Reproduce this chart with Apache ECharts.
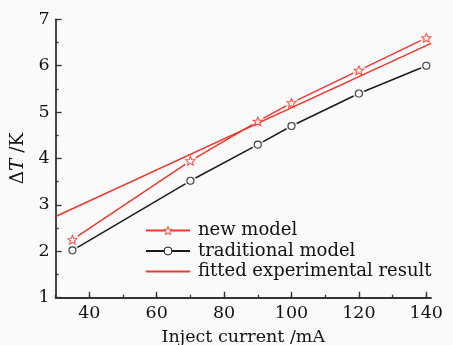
<!DOCTYPE html>
<html>
<head>
<meta charset="utf-8">
<script src="https://cdn.jsdelivr.net/npm/echarts@6/dist/echarts.min.js"></script>
<style>
  html, body { margin: 0; padding: 0; background: #fafafa; }
  #chart { width: 453px; height: 345px; }
</style>
</head>
<body>
<div id="chart"></div>
<script>
// Injection current (mA) at which both models were evaluated
const currents = [35, 70, 90, 100, 120, 140];
// Temperature rise ΔT (K)
const newModel = [2.25, 3.95, 4.8, 5.2, 5.9, 6.6];
const traditionalModel = [2.02, 3.52, 4.3, 4.7, 5.4, 6.0];
// Straight-line fit of the experimental data (end points)
const fittedCurrents = [30, 141.4];
const fittedValues = [2.75, 6.48];
// Axis ranges
const xMin = 30, xMax = 140, xFitMax = 141.4;
const yMin = 1, yMax = 7;

const RED = '#ec3a2c';
const BLACK = '#1a1a1a';
const BG = '#fafafa';
const INK = '#111';
const AXIS = '#333';
const FONT = 'DejaVu Serif';
const STAR = 'path://M0,-10L2.645,-3.641L9.511,-3.09L4.28,1.39L5.878,8.09L0,4.5L-5.878,8.09L-4.28,1.39L-9.511,-3.09L-2.645,-3.641Z';

const pairs = (xs, ys) => xs.map((x, i) => [x, ys[i]]);

const plotTop = 19.3, plotHeight = 278.4, plotLeft = 55.6;
const pxPerUnit = 3.37;

const chart = echarts.init(document.getElementById('chart'), null, { renderer: 'canvas' });

const hiddenY = { type: 'value', min: yMin, max: yMax, show: false };
const tickLine = { color: AXIS, width: 1.3 };
const gridBase = { top: plotTop, height: plotHeight, containLabel: false, outerBoundsMode: 'none' };

chart.setOption({
  backgroundColor: BG,
  animation: false,
  grid: [
    // main plot area (x from 30 to 140)
    Object.assign({ left: plotLeft, width: (xMax - xMin) * pxPerUnit }, gridBase),
    // slightly longer frame for the fitted line and the bottom axis line
    Object.assign({ left: plotLeft, width: (xFitMax - xMin) * pxPerUnit }, gridBase),
    // labelled major ticks every 20 mA starting at 40
    Object.assign({ left: plotLeft + 10 * pxPerUnit, width: (xMax - 40) * pxPerUnit }, gridBase)
  ],
  xAxis: [
    {
      gridIndex: 0, type: 'value', min: xMin, max: xMax, interval: 10,
      axisLine: { show: false },
      axisTick: { show: true, inside: true, length: 3, lineStyle: tickLine },
      axisLabel: { show: false },
      splitLine: { show: false }
    },
    {
      gridIndex: 1, type: 'value', min: xMin, max: xFitMax,
      axisLine: { show: true, lineStyle: { color: AXIS, width: 1.8 } },
      axisTick: { show: false },
      axisLabel: { show: false },
      splitLine: { show: false },
      name: 'Inject current /mA',
      nameLocation: 'middle',
      nameGap: 31,
      nameTextStyle: { fontFamily: FONT, fontSize: 17.5, color: INK }
    },
    {
      gridIndex: 2, type: 'value', min: 40, max: xMax, interval: 20,
      axisLine: { show: false },
      axisTick: { show: true, inside: true, length: 6, lineStyle: tickLine },
      axisLabel: { show: true, margin: 7, fontFamily: FONT, fontSize: 17.5, color: INK },
      splitLine: { show: false }
    }
  ],
  yAxis: [
    {
      gridIndex: 0, type: 'value', min: yMin, max: yMax, interval: 1,
      axisLine: { show: true, lineStyle: { color: AXIS, width: 1.8 } },
      axisTick: { show: true, inside: true, length: 6, lineStyle: tickLine },
      minorTick: { show: true, splitNumber: 2, length: 3, lineStyle: tickLine },
      axisLabel: { show: true, margin: 6, fontFamily: FONT, fontSize: 17.5, color: INK },
      splitLine: { show: false },
      name: '{d|Δ}{t|T}{k| /K}',
      nameLocation: 'middle',
      nameRotate: 90,
      nameGap: 18,
      nameTextStyle: {
        color: INK,
        rich: {
          d: { fontFamily: FONT, fontSize: 18.5, color: INK },
          t: { fontFamily: FONT, fontSize: 18.5, fontStyle: 'italic', color: INK },
          k: { fontFamily: FONT, fontSize: 18.5, color: INK }
        }
      }
    },
    Object.assign({ gridIndex: 1 }, hiddenY),
    Object.assign({ gridIndex: 2 }, hiddenY)
  ],
  legend: {
    orient: 'vertical',
    left: 140,
    top: 216.5,
    itemWidth: 44,
    itemHeight: 10,
    itemGap: 2.5,
    data: [
      { name: 'new model', itemStyle: { color: '#fff', borderColor: RED, borderWidth: 1 } },
      { name: 'traditional model', itemStyle: { color: '#fff', borderColor: BLACK, borderWidth: 1 } },
      { name: 'fitted experimental result', itemStyle: { color: 'rgba(0,0,0,0)', borderWidth: 0 } }
    ],
    textStyle: { fontFamily: FONT, fontSize: 18, color: INK, padding: [0, 0, 0, 3] }
  },
  series: [
    {
      name: 'new model', type: 'line', xAxisIndex: 0, yAxisIndex: 0, z: 2,
      data: pairs(currents, newModel),
      symbol: STAR, symbolKeepAspect: true, symbolSize: 9,
      lineStyle: { color: RED, width: 1.5 },
      itemStyle: { color: '#fff', borderColor: RED, borderWidth: 1.1 }
    },
    {
      name: 'traditional model', type: 'line', xAxisIndex: 0, yAxisIndex: 0, z: 2,
      data: pairs(currents, traditionalModel),
      symbol: 'circle', symbolSize: 7,
      lineStyle: { color: BLACK, width: 1.5 },
      itemStyle: { color: '#fff', borderColor: BLACK, borderWidth: 1.1 }
    },
    // background discs that open a small gap in the lines around each marker
    {
      name: 'gap-new', type: 'scatter', xAxisIndex: 0, yAxisIndex: 0, z: 3, silent: true,
      data: pairs(currents, newModel), symbol: 'circle', symbolSize: 13,
      itemStyle: { color: BG }
    },
    {
      name: 'gap-traditional', type: 'scatter', xAxisIndex: 0, yAxisIndex: 0, z: 3, silent: true,
      data: pairs(currents, traditionalModel), symbol: 'circle', symbolSize: 12,
      itemStyle: { color: BG }
    },
    {
      name: 'fitted experimental result', type: 'line', xAxisIndex: 1, yAxisIndex: 1, z: 4,
      data: pairs(fittedCurrents, fittedValues),
      symbol: 'none',
      lineStyle: { color: RED, width: 1.5 },
      itemStyle: { color: RED }
    },
    {
      name: 'marker-new', type: 'scatter', xAxisIndex: 0, yAxisIndex: 0, z: 5, silent: true,
      data: pairs(currents, newModel), symbol: STAR, symbolKeepAspect: true, symbolSize: 9,
      itemStyle: { color: '#fff', borderColor: RED, borderWidth: 1.1 }
    },
    {
      name: 'marker-traditional', type: 'scatter', xAxisIndex: 0, yAxisIndex: 0, z: 5, silent: true,
      data: pairs(currents, traditionalModel), symbol: 'circle', symbolSize: 7,
      itemStyle: { color: '#fff', borderColor: BLACK, borderWidth: 1.1 }
    }
  ]
});
</script>
</body>
</html>
